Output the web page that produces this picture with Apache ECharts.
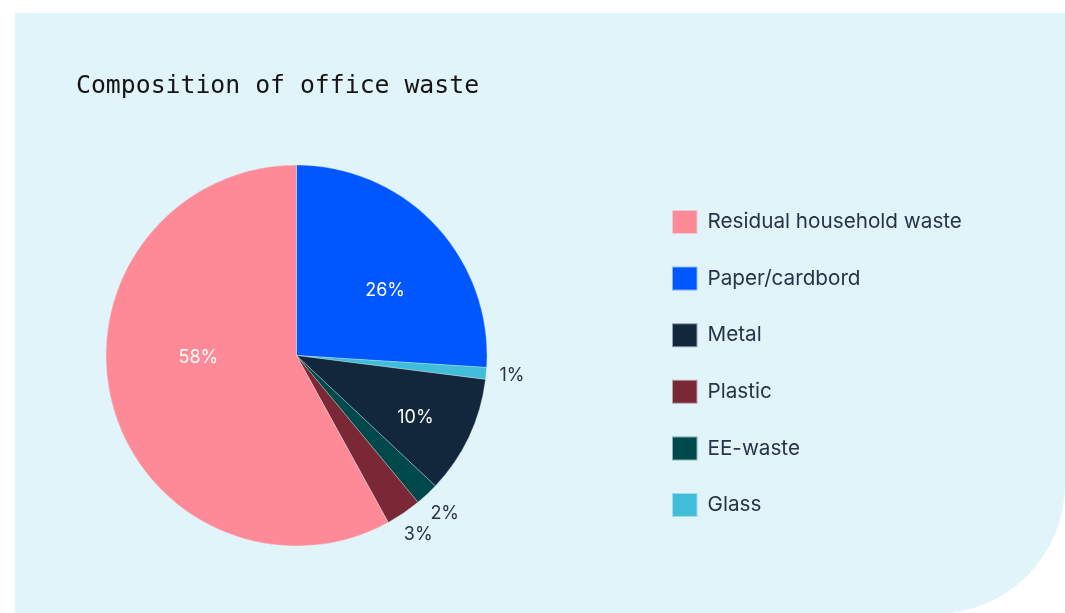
<!DOCTYPE html>
<html>
<head>
<meta charset="utf-8">
<title>Composition of office waste</title>
<script src="https://cdn.jsdelivr.net/npm/echarts@6/dist/echarts.min.js"></script>
<style>
  html, body { margin: 0; padding: 0; background: #ffffff; }
  #chart { width: 1065px; height: 613px; }
</style>
</head>
<body>
<div id="chart"></div>
<script>
// Slices in drawing order (clockwise from 12 o'clock)
const categories = ['Paper/cardbord', 'Glass', 'Metal', 'EE-waste', 'Plastic', 'Residual household waste'];
const shares = [26, 1, 10, 2, 3, 58];
// Order of the entries in the legend
const legendOrder = ['Residual household waste', 'Paper/cardbord', 'Metal', 'Plastic', 'EE-waste', 'Glass'];
const sliceColors = ['#0057FF', '#40BDD9', '#13273C', '#00494A', '#7A2836', '#FF8A97'];

const FONT = 'Inter, "Noto Sans", sans-serif';
const TEXT_DARK = '#283347';
const PANEL = '#E0F4FA';
const SMALL_SHARE = 5;           // slices below this get their label outside
const CENTER = [296.5, 355.5];
const RADIUS = 190.5;

// nudges for the white in-slice labels
const innerLabelOffset = {
  'Paper/cardbord': [17, 2],
  'Metal': [30, 20],
  'Residual household waste': [-3, -22]
};

const colorOf = {};
categories.forEach((c, i) => { colorOf[c] = sliceColors[i]; });

const mainData = categories.map((name, i) => {
  const big = shares[i] >= SMALL_SHARE;
  return {
    name: name,
    value: shares[i],
    itemStyle: { color: sliceColors[i] },
    label: big
      ? { show: true, position: 'inside', offset: innerLabelOffset[name] || [0, 0] }
      : { show: false }
  };
});

// transparent ring just outside the pie, carrying the labels of the thin slices
const ringData = categories.map((name, i) => ({
  name: name,
  value: shares[i],
  itemStyle: { color: 'rgba(0,0,0,0)' },
  label: { show: shares[i] < SMALL_SHARE }
}));

const chart = echarts.init(document.getElementById('chart'), null, { renderer: 'canvas' });

chart.setOption({
  animation: false,
  graphic: [{
    type: 'rect',
    z: -10,
    silent: true,
    shape: { x: 15, y: 13, width: 1050, height: 601, r: [0, 0, 130, 0] },
    style: { fill: PANEL }
  }],
  title: {
    text: 'Composition of office waste',
    left: 71,
    top: 69,
    textStyle: {
      fontFamily: '"DejaVu Sans Mono", "Liberation Mono", monospace',
      fontSize: 24.8,
      fontWeight: 'normal',
      color: '#151515'
    }
  },
  legend: {
    orient: 'vertical',
    left: 666,
    top: 204,
    icon: 'rect',
    itemWidth: 25.5,
    itemHeight: 24,
    itemGap: 30.6,
    selectedMode: false,
    data: legendOrder.map(n => ({ name: n, itemStyle: { color: colorOf[n] } })),
    textStyle: {
      fontFamily: FONT,
      fontSize: 20.7,
      lineHeight: 24,
      color: TEXT_DARK,
      padding: [0, 0, 0, 5]
    }
  },
  series: [
    {
      type: 'pie',
      name: 'Composition',
      center: CENTER,
      radius: [0, RADIUS],
      startAngle: 90,
      clockwise: true,
      avoidLabelOverlap: false,
      itemStyle: { borderColor: 'rgba(224,244,250,0.6)', borderWidth: 0.5 },
      emphasis: { disabled: true },
      labelLine: { show: false },
      label: {
        formatter: '{c}%',
        color: '#ffffff',
        fontFamily: FONT,
        fontSize: 18
      },
      data: mainData
    },
    {
      type: 'pie',
      name: 'Outer labels',
      silent: true,
      center: CENTER,
      radius: [RADIUS, RADIUS + 46],
      startAngle: 90,
      clockwise: true,
      avoidLabelOverlap: false,
      emphasis: { disabled: true },
      labelLine: { show: false },
      label: {
        position: 'inside',
        formatter: '{c}%',
        color: TEXT_DARK,
        fontFamily: FONT,
        fontSize: 18
      },
      data: ringData
    }
  ]
});
</script>
</body>
</html>
